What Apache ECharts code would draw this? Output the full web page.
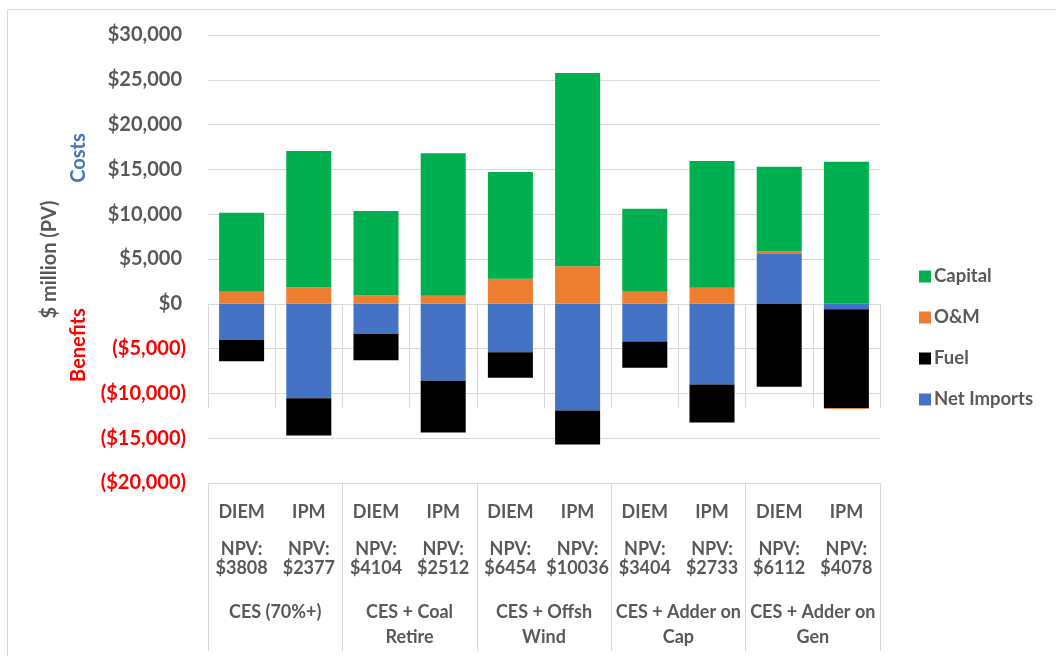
<!DOCTYPE html>
<html><head><meta charset="utf-8">
<script src="https://cdn.jsdelivr.net/npm/echarts@6/dist/echarts.min.js"></script>
<style>html,body{margin:0;padding:0;background:#fff}#c{width:1056px;height:656px}</style>
</head><body><div id="c"></div>
<script>
const models = ['DIEM','IPM','DIEM','IPM','DIEM','IPM','DIEM','IPM','DIEM','IPM'];
const npv = ['$3808','$2377','$4104','$2512','$6454','$10036','$3404','$2733','$6112','$4078'];
const groups = ['CES (70%+)','CES + Coal\nRetire','CES + Offsh\nWind','CES + Adder on\nCap','CES + Adder on\nGen'];
const netImports = [-4000,-10550,-3350,-8600,-5400,-11900,-4200,-9000,5650,-600];
const fuel = [-2400,-4150,-2950,-5750,-2850,-3800,-2950,-4250,-9250,-11050];
const om = [1350,1850,950,900,2800,4200,1350,1800,250,-100];
const capital = [8800,15200,9400,15900,11900,21550,9250,14150,9400,15850];
const yTicks = {min:-20000,max:30000,interval:5000};

const FONT = 'Lato';
const GRAY = '#595959';
const LINE = '#d9d9d9';
const cats = models.map((m,i)=>i);

const chart = echarts.init(document.getElementById('c'));
function fmt(v){
  const s = '$' + Math.abs(v).toLocaleString('en-US');
  return v < 0 ? '{n|(' + s + ')}' : '{p|' + s + '}';
}
function bar(name, data, color){
  return {name, type:'bar', stack:'total', stackStrategy:'samesign', data,
    barCategoryGap:'33%', itemStyle:{color}, xAxisIndex:0, yAxisIndex:0};
}
chart.setOption({
  animation:false,
  textStyle:{fontFamily:FONT},
  grid:{left:208,right:176,top:35,bottom:173,containLabel:false},
  legend:{orient:'vertical',left:914,top:262,itemWidth:12,itemHeight:12,itemGap:22,
    icon:'rect', data:['Capital','O&M','Fuel','Net Imports'],
    textStyle:{fontFamily:FONT,fontSize:18.5,fontWeight:'bold',color:GRAY,lineHeight:18,padding:[0,0,0,-2]}},
  xAxis:[
    {type:'category', data:cats, position:'bottom',
     axisLine:{show:true,lineStyle:{color:LINE,width:1}},
     axisTick:{show:true,length:104,interval:0,lineStyle:{color:LINE}},
     axisLabel:{interval:0,margin:20,lineHeight:18.5,fontSize:18,fontWeight:'bold',color:GRAY,fontFamily:FONT,
       formatter:(v,i)=>models[i]+'\n\nNPV:\n'+npv[i]}},
    {type:'category', data:groups, position:'bottom', gridIndex:0,
     axisLine:{show:false},
     axisTick:{show:true,length:168,interval:0,lineStyle:{color:LINE}},
     axisLabel:{interval:0,margin:117,lineHeight:25,fontSize:18,fontWeight:'bold',color:GRAY,fontFamily:FONT}}
  ],
  yAxis:{type:'value', min:yTicks.min, max:yTicks.max, interval:yTicks.interval,
    axisLine:{show:false}, axisTick:{show:false},
    splitLine:{lineStyle:{color:LINE,width:1}},
    axisLabel:{margin:22,formatter:fmt,
      rich:{p:{color:GRAY,fontSize:20,fontWeight:'bold',fontFamily:FONT,padding:[0,4,0,0]},
            n:{color:'#FF0000',fontSize:20,fontWeight:'bold',fontFamily:FONT}}}},
  series:[
    bar('Net Imports', netImports, '#4472C4'),
    bar('Fuel', fuel, '#000000'),
    bar('O&M', om, '#ED7D31'),
    bar('Capital', capital, '#00B050')
  ],
  graphic:[
    {type:'rect', shape:{x:7.5,y:9.5,width:1100,height:700}, style:{fill:'none',stroke:LINE,lineWidth:1}, silent:true},
    {type:'text', x:50, y:259.5, rotation:Math.PI/2,
     style:{text:'$ million (PV)',fill:GRAY,fontSize:20,fontWeight:'bold',fontFamily:FONT,align:'center',verticalAlign:'middle'}},
    {type:'text', x:79, y:158, rotation:Math.PI/2,
     style:{text:'Costs',fill:'#4472C4',fontSize:20,fontWeight:'bold',fontFamily:FONT,align:'center',verticalAlign:'middle'}},
    {type:'text', x:79, y:345, rotation:Math.PI/2,
     style:{text:'Benefits',fill:'#FF0000',fontSize:20,fontWeight:'bold',fontFamily:FONT,align:'center',verticalAlign:'middle'}}
  ]
});
</script></body></html>
